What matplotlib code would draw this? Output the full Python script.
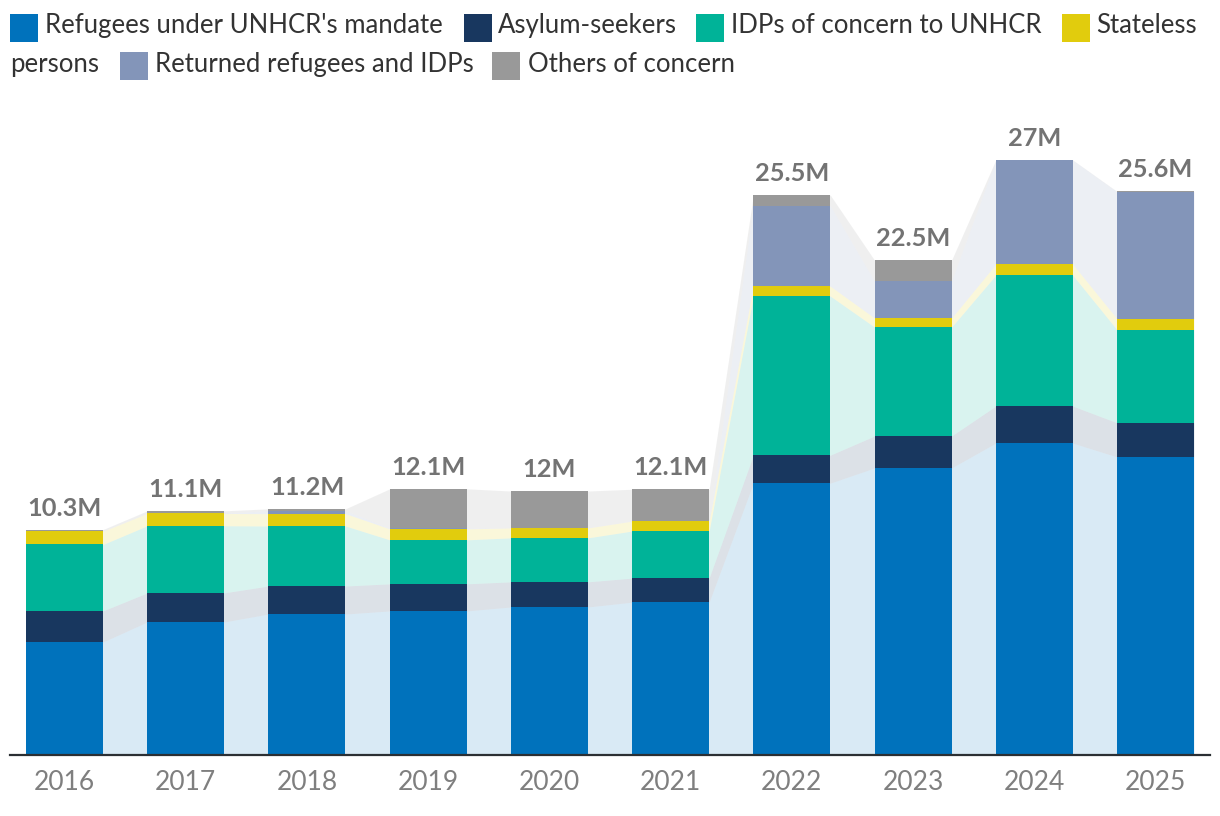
import matplotlib
matplotlib.use("Agg")
import matplotlib.pyplot as plt
from matplotlib.patches import Rectangle
import numpy as np

plt.rcParams['font.family'] = ['Lato', 'DejaVu Sans']

# data (millions)
years = ['2016', '2017', '2018', '2019', '2020', '2021', '2022', '2023', '2024', '2025']
refugees = [5.14, 6.05, 6.41, 6.55, 6.73, 6.95, 12.36, 13.05, 14.18, 13.55]
asylum = [1.41, 1.32, 1.27, 1.23, 1.14, 1.09, 1.27, 1.45, 1.68, 1.55]
idps = [3.02, 3.05, 2.73, 2.0, 2.0, 2.14, 7.23, 4.95, 5.95, 4.23]
stateless = [0.6, 0.56, 0.56, 0.5, 0.45, 0.45, 0.45, 0.41, 0.5, 0.5]
returned = [0.0, 0.0, 0.14, 0.03, 0.0, 0.0, 3.65, 1.68, 4.73, 5.77]
others = [0.08, 0.12, 0.08, 1.79, 1.68, 1.45, 0.49, 0.95, 0.01, 0.02]
totals = [10.3, 11.1, 11.2, 12.1, 12.0, 12.1, 25.5, 22.5, 27.0, 25.6]

series = [
    ("Refugees under UNHCR's mandate", refugees, '#0072bc'),
    ('Asylum-seekers', asylum, '#18375f'),
    ('IDPs of concern to UNHCR', idps, '#00b398'),
    ('Stateless persons', stateless, '#e1cc0d'),
    ('Returned refugees and IDPs', returned, '#8395b9'),
    ('Others of concern', others, '#999999'),
]

W, H = 1220, 816
fig = plt.figure(figsize=(W / 100, H / 100), dpi=100)
# axes box in pixels: x 10..1210, y 100..755
ax = fig.add_axes([10 / W, (H - 755) / H, 1200 / W, 655 / H])

x = np.arange(len(years))
bw = 0.635

# connecting areas between bar edges
xe = np.ravel(np.column_stack([x - bw / 2, x + bw / 2]))
bottom = np.zeros(len(years))
for name, vals, col in series:
    vals = np.array(vals)
    lo = np.repeat(bottom, 2)
    hi = np.repeat(bottom + vals, 2)
    ax.fill_between(xe, lo, hi, color=col, alpha=0.15, linewidth=0, zorder=1)
    ax.bar(x, vals, bw, bottom=bottom, color=col, linewidth=0, zorder=2)
    bottom = bottom + vals

for i, t in enumerate(totals):
    ax.annotate(f'{t:g}M', (x[i], bottom[i]), xytext=(0, 10), textcoords='offset points',
                ha='center', va='baseline', fontsize=18.3, fontweight='bold', color='#737373')

ax.set_xlim(-0.45, 9.45)
ax.set_ylim(0, 655 / 22.0)
ax.set_xticks(x)
ax.set_xticklabels(years, fontsize=19, color='#7f7f7f')
ax.tick_params(axis='x', length=0, pad=11)
ax.set_yticks([])
for s in ['top', 'left', 'right']:
    ax.spines[s].set_visible(False)
ax.spines['bottom'].set_color('#2b2f33')
ax.spines['bottom'].set_linewidth(1.6)
ax.spines['bottom'].set_zorder(5)

# legend, laid out in two wrapped lines
def swatch(px, py, col):
    fig.add_artist(Rectangle((px / W, 1 - (py + 28) / H), 28 / W, 28 / H,
                             transform=fig.transFigure, color=col, linewidth=0))

def label(px, base, s):
    fig.text(px / W, 1 - base / H, s, fontsize=18.5, color='#333333', va='baseline')

swatch(10, 14, series[0][2]); label(45, 33, series[0][0])
swatch(464, 14, series[1][2]); label(498, 33, series[1][0])
swatch(696, 14, series[2][2]); label(731, 33, series[2][0])
swatch(1062, 14, series[3][2]); label(1096, 33, 'Stateless')
label(10, 72, 'persons')
swatch(120, 52, series[4][2]); label(155, 72, series[4][0])
swatch(492, 52, series[5][2]); label(528, 72, series[5][0])

fig.savefig('out.png', dpi=100)
